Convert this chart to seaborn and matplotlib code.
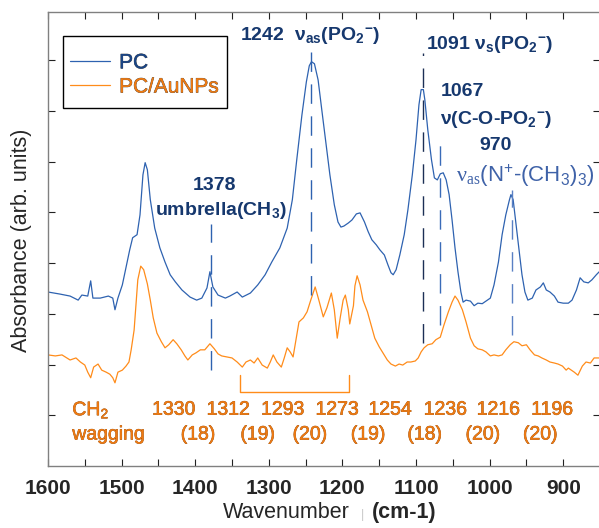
import matplotlib
matplotlib.use("Agg")
import matplotlib.pyplot as plt
import matplotlib.patheffects as pe
from matplotlib.patches import Rectangle
import pandas as pd
import seaborn as sns

# --- spectra (wavenumber cm-1, absorbance arb. units) ---
pc_wn = [1600, 1584, 1570, 1559, 1554, 1546, 1542, 1539, 1529, 1518, 1512, 1509, 1505, 1499,
         1494, 1489, 1485, 1479, 1475, 1471, 1468, 1465, 1461, 1455, 1448, 1441, 1434, 1427,
         1418, 1407, 1398, 1391, 1384, 1380, 1376, 1369, 1359, 1353, 1343, 1336, 1325, 1315,
         1305, 1296, 1285, 1275, 1268, 1262, 1255, 1249, 1245, 1242, 1238, 1233, 1228, 1222,
         1217, 1211, 1206, 1202, 1198, 1192, 1187, 1181, 1176, 1170, 1165, 1160, 1154, 1149,
         1143, 1138, 1134, 1131, 1127, 1122, 1116, 1111, 1105, 1100, 1096, 1093, 1090, 1088,
         1084, 1079, 1075, 1071, 1067, 1063, 1059, 1055, 1051, 1047, 1043, 1039, 1036, 1032,
         1026, 1021, 1016, 1010, 1005, 999, 994, 988, 983, 978, 973, 971, 968, 964, 960, 956,
         952, 948, 942, 937, 931, 927, 923, 918, 912, 907, 900, 893, 888, 882, 877, 872, 866,
         861, 855, 851]
pc_abs = [3.43, 3.39, 3.35, 3.27, 3.37, 3.35, 3.65, 3.31, 3.31, 3.35, 3.31, 3.08, 3.31, 3.57,
          3.91, 4.26, 4.50, 4.56, 4.95, 5.74, 5.98, 5.84, 5.25, 4.69, 4.30, 4.02, 3.77, 3.63,
          3.47, 3.33, 3.27, 3.31, 3.51, 3.83, 3.53, 3.37, 3.31, 3.35, 3.43, 3.33, 3.41, 3.57,
          3.77, 4.02, 4.30, 4.69, 5.25, 6.04, 6.92, 7.57, 7.89, 7.97, 7.93, 7.61, 7.02, 6.33,
          5.74, 5.15, 4.81, 4.71, 4.73, 4.79, 4.85, 4.97, 4.99, 4.81, 4.62, 4.46, 4.36, 4.26,
          4.16, 3.96, 3.81, 3.77, 3.87, 4.16, 4.56, 5.05, 5.74, 6.43, 7.12, 7.42, 7.42, 7.22,
          6.63, 6.04, 5.68, 5.64, 5.76, 5.78, 5.64, 5.35, 4.85, 4.30, 3.83, 3.43, 3.23, 3.27,
          3.25, 3.16, 3.21, 3.20, 3.25, 3.31, 3.57, 4.02, 4.56, 4.95, 5.25, 5.35, 5.25, 4.75,
          4.26, 3.77, 3.43, 3.27, 3.31, 3.47, 3.53, 3.61, 3.47, 3.43, 3.35, 3.23, 3.21, 3.21,
          3.27, 3.47, 3.71, 3.63, 3.61, 3.67, 3.77, 3.83]

au_wn = [1600, 1590, 1581, 1570, 1562, 1556, 1550, 1546, 1542, 1538, 1532, 1527, 1521, 1516,
         1512, 1509, 1505, 1499, 1494, 1490, 1487, 1483, 1480, 1478, 1474, 1470, 1465, 1461,
         1457, 1452, 1446, 1441, 1436, 1430, 1425, 1419, 1414, 1410, 1404, 1399, 1393, 1387,
         1380, 1374, 1369, 1364, 1357, 1350, 1343, 1336, 1331, 1325, 1320, 1315, 1309, 1302,
         1298, 1294, 1289, 1283, 1279, 1275, 1271, 1267, 1263, 1259, 1253, 1248, 1243, 1237,
         1232, 1226, 1221, 1215, 1211, 1207, 1203, 1199, 1196, 1192, 1190, 1185, 1183, 1180,
         1176, 1172, 1166, 1161, 1156, 1150, 1145, 1139, 1134, 1128, 1123, 1118, 1112, 1107,
         1101, 1097, 1093, 1089, 1084, 1078, 1073, 1067, 1062, 1056, 1051, 1047, 1043, 1037,
         1032, 1026, 1021, 1016, 1010, 1005, 999, 994, 988, 983, 978, 972, 967, 961, 956, 950,
         945, 939, 934, 929, 923, 918, 912, 907, 901, 896, 893, 885, 880, 874, 869, 863, 858,
         851]
au_abs = [2.19, 2.17, 2.19, 2.09, 2.13, 2.05, 1.99, 1.85, 1.74, 1.95, 2.01, 1.89, 1.85, 1.81,
          1.74, 1.64, 1.85, 1.89, 1.97, 2.05, 2.29, 2.68, 3.27, 3.67, 3.94, 3.87, 3.59, 3.27,
          2.92, 2.62, 2.45, 2.33, 2.39, 2.49, 2.41, 2.29, 2.17, 2.09, 2.19, 2.23, 2.29, 2.29,
          2.41, 2.31, 2.21, 2.17, 2.15, 2.13, 2.05, 1.95, 2.05, 2.09, 2.03, 2.13, 1.99, 1.93,
          2.05, 2.19, 2.05, 1.95, 2.13, 2.33, 2.25, 2.15, 2.49, 2.84, 2.92, 3.04, 3.27, 3.53,
          3.27, 2.94, 3.12, 3.41, 3.08, 2.52, 2.92, 3.27, 3.37, 3.08, 2.80, 3.16, 3.55, 3.75,
          3.57, 3.27, 3.04, 2.78, 2.52, 2.35, 2.23, 2.09, 2.01, 1.97, 2.01, 1.99, 2.05, 2.05,
          2.07, 2.13, 2.25, 2.33, 2.39, 2.41, 2.49, 2.54, 2.78, 3.04, 3.23, 3.35, 3.27, 3.08,
          2.84, 2.52, 2.37, 2.31, 2.29, 2.25, 2.17, 2.19, 2.17, 2.19, 2.29, 2.39, 2.45, 2.43,
          2.37, 2.39, 2.29, 2.19, 2.17, 2.13, 2.09, 2.05, 2.03, 2.01, 1.97, 1.89, 1.93, 1.85,
          1.79, 1.97, 2.05, 2.03, 2.13, 2.13]

# --- band markers (dashed guides) ---
band_pos = [1378, 1242, 1091, 1067, 970]
band_lo = [1.89, 3.37, 2.43, 2.78, 2.58]
band_hi = [4.77, 8.17, 8.15, 6.53, 5.44]
band_col = ["#2e62b0", "#2e62b0", "#1c2f55", "#3a6bb8", "#5a80c4"]

# --- CH2 wagging labels ---
wag_pos = ["1330", "1312", "1293", "1273", "1254", "1236", "1216", "1196"]
wag_len = ["(18)", "(19)", "(20)", "(19)", "(18)", "(20)", "(20)"]
bracket_from, bracket_to = 1339, 1191

xticks = [1600, 1500, 1400, 1300, 1200, 1100, 1000, 900]

BLUE = "#2e62b0"
ORANGE = "#ff8c1a"
NAVY = "#16386e"
ORANGE_TXT = "#ee7a12"

sns.set_theme(style="ticks")
plt.rcParams["font.family"] = ["Liberation Sans", "DejaVu Sans"]
plt.rcParams["mathtext.fontset"] = "custom"
plt.rcParams["mathtext.default"] = "regular"
plt.rcParams["mathtext.sf"] = "Liberation Serif"

df = pd.concat([
    pd.DataFrame({"wn": pc_wn, "abs": pc_abs, "sample": "PC"}),
    pd.DataFrame({"wn": au_wn, "abs": au_abs, "sample": "PC/AuNPs"}),
])

fig = plt.figure(figsize=(5.99, 5.28), dpi=100)
ax = fig.add_axes([48 / 599, 1 - 466 / 528, 552 / 599, 454 / 528])

sns.lineplot(data=df, x="wn", y="abs", hue="sample", palette=[BLUE, ORANGE],
             estimator=None, sort=False, lw=0.9, ax=ax)

for x, lo, hi, c in zip(band_pos, band_lo, band_hi, band_col):
    ax.vlines(x, lo, hi, colors=c, lw=1, linestyles=(0, (14, 9)))

# bracket below the CH2 wagging band progression
ax.plot([bracket_from, bracket_from, bracket_to, bracket_to],
        [1.79, 1.46, 1.46, 1.79], color=ORANGE, lw=1)

ax.set_xlim(1600, 850)
ax.set_ylim(0, 8.95)
ax.set_xticks(xticks)
ax.set_xticks(range(1550, 850, -100), minor=True)
ax.set_yticks(range(1, 9))
ax.set_yticklabels([])
ax.tick_params(axis="both", which="both", direction="in", top=True, right=True,
               length=5, width=0.8, color="#222222")
ax.tick_params(axis="x", which="major", pad=9, labelsize=15)
for sp in ax.spines.values():
    sp.set_color("#808080")
    sp.set_linewidth(1)
ax.set_xlabel("")
ax.set_ylabel("")

# legend (frame drawn separately so it can be taller than the text block)
leg = ax.legend(loc="upper left", bbox_to_anchor=(0.027, 0.925), borderaxespad=0,
                fontsize=15, handlelength=1.9, handletextpad=0.45, labelspacing=0.25,
                borderpad=0.35, frameon=False)
for t, c in zip(leg.get_texts(), ["#1a4586", ORANGE_TXT]):
    t.set_color(c)
    t.set_path_effects([pe.withStroke(linewidth=0.4, foreground="#333333")])
fig.add_artist(Rectangle((63 / 599, 1 - 108 / 528), 164 / 599, 72 / 528,
                         transform=fig.transFigure, fill=False, ec="black", lw=1))

# band annotations
ann = dict(fontsize=14, fontweight="bold", color=NAVY, ha="left", va="center")
ax.text(1339, 8.48, "1242  ν$_{as}$(PO$_2$$^{-}$)", **ann)
ax.text(1086, 8.30, "1091 ν$_s$(PO$_2$$^{-}$)", **ann)
ax.text(1067, 7.38, "1067", **ann)
ax.text(1067, 6.84, "ν(C-O-PO$_2$$^{-}$)", **ann)
ax.text(1014, 6.31, "970", **ann)
ax.text(1403, 5.52, "1378", **ann)
ax.text(1455, 5.03, "umbrella(CH$_3$)", **ann)
ax.text(1046, 5.72, r"$\mathsf{\nu_{as}}$(N$^{+}$-(CH$_3$)$_3$)", fontsize=16,
        color="#3f62a8", ha="left", va="center")

# CH2 wagging labels
wag = dict(fontsize=14, color=ORANGE_TXT, va="center",
           path_effects=[pe.withStroke(linewidth=0.4, foreground="#8a4000")])
ax.text(1567, 1.10, "CH$_2$", ha="left", **wag)
ax.text(1567, 0.61, "wagging", ha="left", **wag)
for lab, x in zip(wag_pos, [1429, 1355, 1281, 1207, 1135, 1060, 988, 915]):
    ax.text(x, 1.10, lab, ha="center", **wag)
for lab, x in zip(wag_len, [1396, 1315, 1244, 1165, 1088, 1009, 931]):
    ax.text(x, 0.61, lab, ha="center", **wag)

# axis titles
fig.text(350 / 599, 1 - 518 / 528, "Wavenumber", fontsize=15.5, ha="right", va="baseline")
fig.text(363 / 599, 1 - 518 / 528, "|", fontsize=9, color="#c8c8c8", ha="center", va="baseline")
fig.text(372 / 599, 1 - 518 / 528, "(cm-1)", fontsize=15.5, fontweight="bold",
         ha="left", va="baseline")
fig.text(22 / 599, 1 - 240 / 528, "Absorbance (arb. units)", fontsize=15.5,
         rotation=90, ha="center", va="center")

fig.canvas.draw()
plt.setp(ax.get_xticklabels(), fontweight="bold")
fig.savefig("out.png", dpi=100)
